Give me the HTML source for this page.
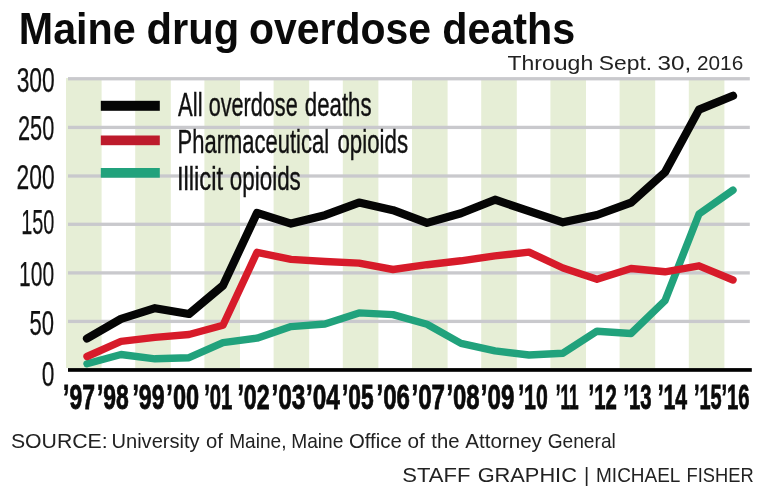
<!DOCTYPE html>
<html><head><meta charset="utf-8"><style>
html,body{margin:0;padding:0;background:#fff;}
body{width:775px;height:497px;overflow:hidden;}
svg{display:block;will-change:transform;}
text{font-family:"Liberation Sans",sans-serif;}
.title{font-weight:bold;fill:#0a0a0a;}
.sub{fill:#222;}
.yl{fill:#111;stroke:#111;stroke-width:0.25px;}
.lg{fill:#111;stroke:#111;stroke-width:0.4px;}
.xl{font-weight:bold;fill:#0a0a0a;stroke:#0a0a0a;stroke-width:0.8px;}
.src{fill:#222;}
</style></head><body>
<svg width="775" height="497" viewBox="0 0 775 497">
<rect width="775" height="497" fill="#fff"/>
<rect x="66.0" y="78" width="35.6" height="290" fill="#e6eed6"/><rect x="135.2" y="78" width="35.6" height="290" fill="#e6eed6"/><rect x="204.4" y="78" width="35.6" height="290" fill="#e6eed6"/><rect x="273.6" y="78" width="35.6" height="290" fill="#e6eed6"/><rect x="342.8" y="78" width="35.6" height="290" fill="#e6eed6"/><rect x="412.0" y="78" width="35.6" height="290" fill="#e6eed6"/><rect x="481.2" y="78" width="35.6" height="290" fill="#e6eed6"/><rect x="550.4" y="78" width="35.6" height="290" fill="#e6eed6"/><rect x="619.6" y="78" width="35.6" height="290" fill="#e6eed6"/><rect x="688.8" y="78" width="35.6" height="290" fill="#e6eed6"/>
<rect x="68" y="77.10" width="681.8" height="3.3" fill="#c9c9cd"/><rect x="68" y="125.75" width="681.8" height="3.3" fill="#c9c9cd"/><rect x="68" y="174.35" width="681.8" height="3.3" fill="#c9c9cd"/><rect x="68" y="222.65" width="681.8" height="3.3" fill="#c9c9cd"/><rect x="68" y="271.25" width="681.8" height="3.3" fill="#c9c9cd"/><rect x="68" y="319.75" width="681.8" height="3.3" fill="#c9c9cd"/>
<rect x="68" y="368.1" width="683.8" height="3.7" fill="#000"/>
<rect x="100.8" y="100.8" width="59" height="10" fill="#050505"/>
<rect x="100.8" y="135.5" width="59" height="9.7" fill="#bd1b2c"/>
<rect x="100.8" y="168" width="59" height="9.7" fill="#21a27c"/>
<g fill="none" stroke-linejoin="round" stroke-linecap="round">
<polyline points="87.0,363.7 121.0,354.5 155.0,358.8 189.0,357.7 223.0,342.6 257.0,338.2 291.0,326.6 325.0,324.0 359.0,312.9 393.0,314.6 427.0,324.2 461.0,343.4 495.0,350.9 529.0,355.0 563.0,353.2 597.0,331.2 631.0,333.5 665.0,300.6 699.0,214.0 733.0,190.1" stroke="#21a27c" stroke-width="7.4"/>
<polyline points="87.0,356.5 121.0,341.4 155.0,337.4 189.0,334.5 223.0,325.3 257.0,252.3 291.0,259.4 325.0,261.5 359.0,263.1 393.0,269.5 427.0,264.7 461.0,260.8 495.0,255.9 529.0,252.1 563.0,268.0 597.0,279.2 631.0,268.5 665.0,271.8 699.0,265.8 733.0,280.0" stroke="#d71b2a" stroke-width="7.4"/>
<polyline points="87.0,338.5 121.0,318.9 155.0,308.2 189.0,314.0 223.0,285.5 257.0,212.9 291.0,223.6 325.0,215.2 359.0,202.6 393.0,210.2 427.0,222.9 461.0,213.3 495.0,199.7 529.0,211.2 563.0,222.3 597.0,215.0 631.0,202.7 665.0,172.3 699.0,109.6 733.0,95.7" stroke="#050505" stroke-width="8.2"/>
</g>
<text class="title" x="18.83" y="43.9" font-size="44" textLength="116.88" lengthAdjust="spacingAndGlyphs">Maine</text>
<text class="title" x="146.49" y="43.9" font-size="44" textLength="92.68" lengthAdjust="spacingAndGlyphs">drug</text>
<text class="title" x="248.97" y="43.9" font-size="44" textLength="182.03" lengthAdjust="spacingAndGlyphs">overdose</text>
<text class="title" x="442.21" y="43.9" font-size="44" textLength="133.06" lengthAdjust="spacingAndGlyphs">deaths</text>
<text class="sub" x="507.44" y="69.7" font-size="20.5" textLength="85.79" lengthAdjust="spacingAndGlyphs">Through</text>
<text class="sub" x="598.89" y="69.7" font-size="20.5" textLength="53.33" lengthAdjust="spacingAndGlyphs">Sept.</text>
<text class="sub" x="657.47" y="69.7" font-size="20.5" textLength="33.69" lengthAdjust="spacingAndGlyphs">30,</text>
<text class="sub" x="697.00" y="69.7" font-size="20.5" textLength="46.25" lengthAdjust="spacingAndGlyphs">2016</text>
<text class="yl" x="16.67" y="92.3" font-size="34.4" textLength="38.13" lengthAdjust="spacingAndGlyphs">300</text>
<text class="yl" x="17.99" y="139.7" font-size="34.4" textLength="36.29" lengthAdjust="spacingAndGlyphs">250</text>
<text class="yl" x="16.55" y="189.4" font-size="34.4" textLength="38.08" lengthAdjust="spacingAndGlyphs">200</text>
<text class="yl" x="21.24" y="234.0" font-size="34.4" textLength="33.20" lengthAdjust="spacingAndGlyphs">150</text>
<text class="yl" x="19.08" y="286.4" font-size="34.4" textLength="35.08" lengthAdjust="spacingAndGlyphs">100</text>
<text class="yl" x="29.54" y="334.7" font-size="34.4" textLength="24.56" lengthAdjust="spacingAndGlyphs">50</text>
<text class="yl" x="41.65" y="385.7" font-size="34.4" textLength="12.65" lengthAdjust="spacingAndGlyphs">0</text>
<text class="lg" x="178.09" y="115.9" font-size="33.2" textLength="24.47" lengthAdjust="spacingAndGlyphs">All</text>
<text class="lg" x="208.65" y="115.9" font-size="33.2" textLength="89.09" lengthAdjust="spacingAndGlyphs">overdose</text>
<text class="lg" x="304.77" y="115.9" font-size="33.2" textLength="66.80" lengthAdjust="spacingAndGlyphs">deaths</text>
<text class="lg" x="177.61" y="152.5" font-size="33.2" textLength="151.45" lengthAdjust="spacingAndGlyphs">Pharmaceutical</text>
<text class="lg" x="337.44" y="152.5" font-size="33.2" textLength="70.58" lengthAdjust="spacingAndGlyphs">opioids</text>
<text class="lg" x="176.91" y="190" font-size="33.2" textLength="46.26" lengthAdjust="spacingAndGlyphs">Illicit</text>
<text class="lg" x="229.84" y="190" font-size="33.2" textLength="70.95" lengthAdjust="spacingAndGlyphs">opioids</text>
<text class="xl" x="63.05" y="409" font-size="34.4" textLength="31.88" lengthAdjust="spacingAndGlyphs">’97</text>
<text class="xl" x="96.90" y="409" font-size="34.4" textLength="31.84" lengthAdjust="spacingAndGlyphs">’98</text>
<text class="xl" x="132.42" y="409" font-size="34.4" textLength="32.24" lengthAdjust="spacingAndGlyphs">’99</text>
<text class="xl" x="166.35" y="409" font-size="34.4" textLength="32.70" lengthAdjust="spacingAndGlyphs">’00</text>
<text class="xl" x="204.13" y="409" font-size="34.4" textLength="28.11" lengthAdjust="spacingAndGlyphs">’01</text>
<text class="xl" x="237.38" y="409" font-size="34.4" textLength="32.33" lengthAdjust="spacingAndGlyphs">’02</text>
<text class="xl" x="271.42" y="409" font-size="34.4" textLength="33.97" lengthAdjust="spacingAndGlyphs">’03</text>
<text class="xl" x="306.00" y="409" font-size="34.4" textLength="33.92" lengthAdjust="spacingAndGlyphs">’04</text>
<text class="xl" x="342.04" y="409" font-size="34.4" textLength="31.70" lengthAdjust="spacingAndGlyphs">’05</text>
<text class="xl" x="376.51" y="409" font-size="34.4" textLength="33.45" lengthAdjust="spacingAndGlyphs">’06</text>
<text class="xl" x="411.42" y="409" font-size="34.4" textLength="33.61" lengthAdjust="spacingAndGlyphs">’07</text>
<text class="xl" x="446.39" y="409" font-size="34.4" textLength="33.24" lengthAdjust="spacingAndGlyphs">’08</text>
<text class="xl" x="480.79" y="409" font-size="34.4" textLength="33.52" lengthAdjust="spacingAndGlyphs">’09</text>
<text class="xl" x="518.15" y="409" font-size="34.4" textLength="29.59" lengthAdjust="spacingAndGlyphs">’10</text>
<text class="xl" x="555.65" y="409" font-size="34.4" textLength="23.07" lengthAdjust="spacingAndGlyphs">’11</text>
<text class="xl" x="588.48" y="409" font-size="34.4" textLength="28.30" lengthAdjust="spacingAndGlyphs">’12</text>
<text class="xl" x="623.40" y="409" font-size="34.4" textLength="28.11" lengthAdjust="spacingAndGlyphs">’13</text>
<text class="xl" x="657.67" y="409" font-size="34.4" textLength="29.50" lengthAdjust="spacingAndGlyphs">’14</text>
<text class="xl" x="693.96" y="409" font-size="34.4" textLength="27.72" lengthAdjust="spacingAndGlyphs">’15</text>
<text class="xl" x="721.49" y="409" font-size="34.4" textLength="28.15" lengthAdjust="spacingAndGlyphs">’16</text>
<text class="src" x="10.91" y="447.9" font-size="20.8" textLength="96.78" lengthAdjust="spacingAndGlyphs">SOURCE:</text>
<text class="src" x="111.45" y="447.9" font-size="20.8" textLength="88.22" lengthAdjust="spacingAndGlyphs">University</text>
<text class="src" x="205.99" y="447.9" font-size="20.8" textLength="16.90" lengthAdjust="spacingAndGlyphs">of</text>
<text class="src" x="229.14" y="447.9" font-size="20.8" textLength="57.32" lengthAdjust="spacingAndGlyphs">Maine,</text>
<text class="src" x="291.20" y="447.9" font-size="20.8" textLength="52.13" lengthAdjust="spacingAndGlyphs">Maine</text>
<text class="src" x="349.06" y="447.9" font-size="20.8" textLength="52.69" lengthAdjust="spacingAndGlyphs">Office</text>
<text class="src" x="407.51" y="447.9" font-size="20.8" textLength="17.34" lengthAdjust="spacingAndGlyphs">of</text>
<text class="src" x="431.27" y="447.9" font-size="20.8" textLength="28.18" lengthAdjust="spacingAndGlyphs">the</text>
<text class="src" x="465.37" y="447.9" font-size="20.8" textLength="76.54" lengthAdjust="spacingAndGlyphs">Attorney</text>
<text class="src" x="547.68" y="447.9" font-size="20.8" textLength="68.12" lengthAdjust="spacingAndGlyphs">General</text>
<text class="src" x="402.24" y="482.2" font-size="20.3" textLength="68.10" lengthAdjust="spacingAndGlyphs">STAFF</text>
<text class="src" x="477.68" y="482.2" font-size="20.3" textLength="99.22" lengthAdjust="spacingAndGlyphs">GRAPHIC</text>
<text class="src" x="584.02" y="482.2" font-size="20.3">|</text>
<text class="src" x="596.07" y="482.2" font-size="20.3" textLength="84.37" lengthAdjust="spacingAndGlyphs">MICHAEL</text>
<text class="src" x="686.61" y="482.2" font-size="20.3" textLength="67.01" lengthAdjust="spacingAndGlyphs">FISHER</text>
</svg>
</body></html>
